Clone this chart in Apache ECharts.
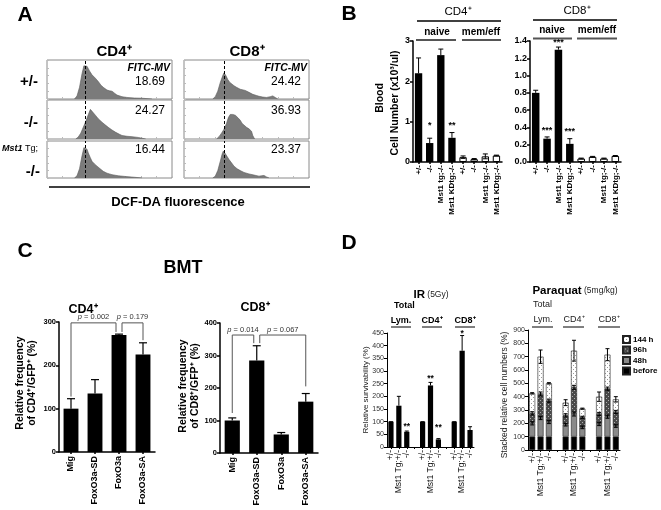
<!DOCTYPE html>
<html><head><meta charset="utf-8">
<script src="https://cdn.jsdelivr.net/npm/echarts@6/dist/echarts.min.js"></script>
<style>html,body{margin:0;padding:0;background:#fff}#c{width:661px;height:510px}</style>
</head><body><div id="c"></div>
<script>
const FF = '"Liberation Sans", Arial, Helvetica, sans-serif';

// ---------- Panel A: DCF-DA histograms (x: fluorescence, y: % of max) ----------
const cd4Het = [[22,0],[24,8],[26,30],[28,65],[29.5,85],[30.5,88],[32,84],[34,72],[36,62],[38.5,54],[41,45],[43,36],[45,30],[48,23],[50,21],[52,20],[54,15],[56,10],[60,6],[64,4],[70,2.5],[76,2],[84,0]];
const cd4Ko  = [[23,0],[25,5],[27,15],[29,30],[31,45],[33,62],[34.7,76],[36,72],[38.7,61],[41,52],[44,43],[47,35],[49,30],[52,23],[55,17],[58,12],[60,9],[64,7],[68,6],[73,4],[79,0]];
const cd4Tg  = [[22,0],[24,6],[26,25],[28,60],[29.5,82],[30.5,86],[32,78],[33,68],[34.5,56],[36,45],[38,38],[40,32],[42.5,25],[45,18],[48,13],[52,9],[57,6],[63,4],[70,2],[76,0]];
const cd8Het = [[23,0],[25,6],[27,20],[29,42],[31,60],[32,67],[33.5,60],[35,50],[36.5,43],[38,38],[40,34],[42,30],[45,25],[49,22],[52,17],[55,12],[58,9],[60,7],[63,5],[66,4],[69,6],[71,8],[73,4],[75,0]];
const cd8Ko  = [[26,0],[28,6],[30,15],[32,25],[34,40],[35.5,55],[37,63],[39,63],[41,61],[43,55],[45,48],[46.5,40],[48,35],[50,30],[52,26],[54,20],[55,9],[56.5,0]];
const cd8Tg  = [[23,0],[25,5],[27,20],[29,45],[30.5,65],[31.5,73],[33,66],[34.5,58],[36,50],[38,41],[40,32],[42.5,25],[45,20],[48,15],[52,11],[56,8],[60,5],[62,6],[64,7],[66,3],[68,0]];
const dashCD4 = 30.4, dashCD8 = 32;
const mvCD4 = ['18.69', '24.27', '16.44'];
const mvCD8 = ['24.42', '36.93', '23.37'];

// ---------- Panel B: blood cell numbers ----------
const bCats = ['+/-', '-/-', 'Mst1 tg;-/-', 'Mst1 KDtg;-/-', '+/-', '-/-', 'Mst1 tg;-/-', 'Mst1 KDtg;-/-'];
const bCD4Mean = [2.2, 0.47, 2.65, 0.6, 0.12, 0.07, 0.14, 0.16];
const bCD4Err  = [0.38, 0.12, 0.15, 0.13, 0.03, 0.015, 0.06, 0.01];
const bCD4Sig  = ['', '*', '', '**', '', '', '', ''];
const bCD4SigY = [0, 0.99, 0, 0.99, 0, 0, 0, 0];
const bCD8Mean = [0.8, 0.27, 1.3, 0.21, 0.04, 0.06, 0.04, 0.07];
const bCD8Err  = [0.03, 0.02, 0.03, 0.06, 0.005, 0.005, 0.005, 0.005];
const bCD8Sig  = ['', '***', '***', '***', '', '', '', ''];
const bCD8SigY = [0, 0.41, 1.42, 0.39, 0, 0, 0, 0];

// ---------- Panel C: BMT ----------
const cCats = ['Mig', 'FoxO3a-SD', 'FoxO3a', 'FoxO3a-SA'];
const cCD4Mean = [100, 135, 270, 225];
const cCD4Err  = [23, 32, 2, 27];
const cCD8Mean = [100, 285, 57, 158];
const cCD8Err  = [8, 45, 6, 25];
const cCD4Brackets = [
  {from: 0, fromOff: 0, fromY: 128, to: 2, toOff: -3, toY: 277, top: 298, p: '0.002'},
  {from: 2, fromOff: 3, fromY: 277, to: 3, toOff: 0, toY: 258, top: 298, p: '0.179'}
];
const cCD8Brackets = [
  {from: 0, fromOff: 0, fromY: 123, to: 1, toOff: -3, toY: 338, top: 363, p: '0.014'},
  {from: 1, fromOff: 3, fromY: 338, to: 3, toOff: 0, toY: 205, top: 363, p: '0.067'}
];

// ---------- Panel D ----------
const dCats = ['+/-', 'Mst1 Tg;+/-', '-/-', '', '+/-', 'Mst1 Tg;+/-', '-/-', '', '+/-', 'Mst1 Tg;+/-', '-/-'];
const irMean = [100, 163, 60, null, 100, 243, 30, null, 100, 380, 67];
const irErr  = [0, 37, 3, null, 0, 12, 3, null, 0, 60, 13];
const irSig  = ['', '', '**', '', '', '**', '**', '', '', '*', ''];
const irSigY = [0, 0, 95, 0, 0, 284, 91, 0, 0, 462, 0];
const pqBefore = [100, 100, 100, null, 100, 100, 100, null, 100, 100, 100];
const pq48h    = [100, 140, 110, null, 90, 170, 70, null, 95, 150, 80];
const pq96h    = [75, 180, 160, null, 70, 200, 75, null, 75, 210, 105];
const pq144h   = [150, 280, 130, null, 95, 275, 65, null, 130, 255, 95];
const pqErr48  = [12, 12, 12, null, 10, 15, 10, null, 12, 12, 10];
const pqErr96  = [12, 15, 12, null, 12, 15, 8, null, 12, 12, 12];
const pqErr144 = [5, 50, 5, null, 22, 78, 4, null, 35, 45, 20];

// ================= build =================
function pattern(w, h, draw) { const c = document.createElement('canvas'); c.width = w; c.height = h; draw(c.getContext('2d')); return c; }
const hatchImg = pattern(4, 4, g => { g.fillStyle = '#4a4a4a'; g.fillRect(0, 0, 4, 4); g.fillStyle = '#b0b0b0'; g.fillRect(0, 0, 1, 1); g.fillRect(2, 2, 1, 1); });
const dotImg = pattern(4, 4, g => { g.fillStyle = '#fff'; g.fillRect(0, 0, 4, 4); g.fillStyle = '#9a9a9a'; g.fillRect(1, 1, 1, 1); g.fillRect(3, 3, 1, 1); });

const grids = [], xAxes = [], yAxes = [], series = [], gfx = [];

function T(x, y, text, size, o = {}) {
  const st = {text, fontSize: size, fontFamily: FF, fontWeight: o.w || 'normal', fontStyle: o.it ? 'italic' : 'normal',
    fill: o.c || '#000', align: o.a || 'center', verticalAlign: o.v || 'middle', textAlign: o.a || 'center', textVerticalAlign: o.v || 'middle'};
  if (o.rich) st.rich = o.rich;
  gfx.push({type: 'text', x, y, rotation: o.rot || 0, z: 50, silent: true, style: st});
}
function L(x1, y1, x2, y2, w = 1, c = '#000') {
  gfx.push({type: 'line', shape: {x1, y1, x2, y2}, style: {stroke: c, lineWidth: w}, z: 50, silent: true});
}

// ---- A grids 0..5
const histSets = [[cd4Het, cd8Het], [cd4Ko, cd8Ko], [cd4Tg, cd8Tg]];
const histTop = [60, 100, 141], histH = [39, 39, 37], histLeft = [47, 184];
histSets.forEach((row, r) => row.forEach((d, c) => {
  const gi = grids.length;
  grids.push({left: histLeft[c], top: histTop[r], width: 125, height: histH[r], show: true, borderColor: '#8a8a8a', borderWidth: 1, backgroundColor: '#fff'});
  const tk = {show: true, inside: true, length: 2, lineStyle: {color: '#bbb'}};
  xAxes.push({type: 'value', gridIndex: gi, min: 0, max: 100, interval: 12.5, axisLine: {show: false}, axisTick: tk, axisLabel: {show: false}, splitLine: {show: false}});
  yAxes.push({type: 'value', gridIndex: gi, min: 0, max: 100, interval: 20, axisLine: {show: false}, axisTick: tk, axisLabel: {show: false}, splitLine: {show: false}});
  series.push({type: 'line', xAxisIndex: gi, yAxisIndex: gi, data: d, showSymbol: false, symbol: 'none',
    lineStyle: {color: '#5a5a5a', width: 0.6}, areaStyle: {color: '#7b7b7b', opacity: 1},
    markLine: {silent: true, symbol: 'none', label: {show: false}, lineStyle: {type: [3, 2], color: '#000', width: 1},
      data: [{xAxis: c === 0 ? dashCD4 : dashCD8}]}});
}));

// ---- generic helpers
function catAxis(gi, labels, o) {
  return {type: 'category', gridIndex: gi, data: labels.map((_, i) => String(i)),
    axisLine: {lineStyle: {color: '#000', width: o.lw}},
    axisTick: {show: true, alignWithLabel: true, length: 2, lineStyle: {color: '#000', width: o.lw}},
    axisLabel: {rotate: 90, margin: o.margin || 4, fontSize: o.fs, fontWeight: o.fw, color: o.color || '#000', fontFamily: FF, interval: 0,
      formatter: (v) => labels[+v]}, splitLine: {show: false}};
}
function valAxis(gi, max, interval, o) {
  return {type: 'value', gridIndex: gi, min: 0, max, interval,
    axisLine: {show: true, lineStyle: {color: '#000', width: o.lw}},
    axisTick: {show: true, length: 3, lineStyle: {color: '#000', width: o.lw}},
    axisLabel: {fontSize: o.fs, fontWeight: o.fw, color: o.color || '#000', margin: o.margin || 3, fontFamily: FF, formatter: o.fmt},
    splitLine: {show: false}};
}
function errSeries(gi, data, cap, lw = 1) {
  return {type: 'custom', xAxisIndex: gi, yAxisIndex: gi, z: 10, silent: true, data,
    renderItem(p, api) {
      const i = api.value(0); const a = api.coord([i, api.value(1)]); const b = api.coord([i, api.value(2)]);
      const st = {stroke: '#000', lineWidth: lw};
      const ch = [{type: 'line', shape: {x1: a[0], y1: a[1], x2: b[0], y2: b[1]}, style: st},
                  {type: 'line', shape: {x1: b[0] - cap, y1: b[1], x2: b[0] + cap, y2: b[1]}, style: st}];
      if (api.value(3)) ch.push({type: 'line', shape: {x1: a[0] - cap, y1: a[1], x2: a[0] + cap, y2: a[1]}, style: st});
      return {type: 'group', children: ch};
    }};
}
function starSeries(gi, sig, sigY, size) {
  const data = [], txt = [];
  sig.forEach((s, i) => { if (s) { data.push([i, sigY[i]]); txt.push(s); } });
  return {type: 'custom', xAxisIndex: gi, yAxisIndex: gi, z: 20, silent: true, data,
    renderItem(p, api) {
      const c = api.coord([api.value(0), api.value(1)]);
      return {type: 'text', x: c[0], y: c[1] - 1, style: {text: txt[p.dataIndex], fontSize: size, fontFamily: FF, fontWeight: 'bold', fill: '#000',
        align: 'center', verticalAlign: 'top', textAlign: 'center', textVerticalAlign: 'top'}};
    }};
}
function bracketSeries(gi, brackets, size) {
  return {type: 'custom', xAxisIndex: gi, yAxisIndex: gi, z: 15, silent: true, data: [[0, 0]],
    renderItem(p, api) {
      const ch = [];
      brackets.forEach(b => {
        const a0 = api.coord([b.from, b.fromY]), a1 = api.coord([b.from, b.top]);
        const c0 = api.coord([b.to, b.toY]), c1 = api.coord([b.to, b.top]);
        const x1 = a0[0] + b.fromOff, x2 = c0[0] + b.toOff;
        ch.push({type: 'polyline', shape: {points: [[x1, a0[1]], [x1, a1[1]], [x2, c1[1]], [x2, c0[1]]]}, style: {stroke: '#555', lineWidth: 1, fill: 'none'}});
        ch.push({type: 'text', x: (x1 + x2) / 2, y: a1[1] - 1.5, style: {text: '{i|p} = ' + b.p,
          rich: {i: {fontStyle: 'italic', fontSize: size, fontFamily: FF, fill: '#333'}},
          fontSize: size, fontFamily: FF, fill: '#333', align: 'center', verticalAlign: 'bottom', textAlign: 'center', textVerticalAlign: 'bottom'}});
      });
      return {type: 'group', children: ch};
    }};
}

// ---- B grids 6,7
const bSpecs = [
  {left: 413, width: 89, mean: bCD4Mean, err: bCD4Err, sig: bCD4Sig, sigY: bCD4SigY, max: 3, interval: 1, fmt: v => String(v)},
  {left: 530, width: 91, mean: bCD8Mean, err: bCD8Err, sig: bCD8Sig, sigY: bCD8SigY, max: 1.4, interval: 0.2, fmt: v => v.toFixed(1)}
];
bSpecs.forEach(s => {
  const gi = grids.length;
  grids.push({left: s.left, top: 41, width: s.width, height: 121});
  xAxes.push(catAxis(gi, bCats, {lw: 1.5, fs: 8, fw: 'bold', margin: 3}));
  yAxes.push(valAxis(gi, s.max, s.interval, {lw: 1.5, fs: 9, fw: 'bold', fmt: s.fmt}));
  series.push({type: 'bar', xAxisIndex: gi, yAxisIndex: gi, barWidth: '66%',
    data: s.mean.map((v, i) => i < 4 ? {value: v, itemStyle: {color: '#000'}} : {value: v, itemStyle: {color: '#fff', borderColor: '#000', borderWidth: 1}})});
  series.push(errSeries(gi, s.mean.map((m, i) => [i, i < 4 ? m : m - s.err[i], m + s.err[i], i < 4 ? 0 : 1]), 2.5));
  series.push(starSeries(gi, s.sig, s.sigY, 9));
});

// ---- C grids 8,9
const cSpecs = [
  {left: 59, top: 322, width: 96, mean: cCD4Mean, err: cCD4Err, br: cCD4Brackets, max: 300},
  {left: 220, top: 323, width: 98, mean: cCD8Mean, err: cCD8Err, br: cCD8Brackets, max: 400}
];
cSpecs.forEach(s => {
  const gi = grids.length;
  grids.push({left: s.left, top: s.top, width: s.width, height: 130});
  xAxes.push(catAxis(gi, cCats, {lw: 1.5, fs: 9, fw: 'bold', margin: 4}));
  yAxes.push(valAxis(gi, s.max, 100, {lw: 1.5, fs: 7.5, fw: 'bold'}));
  series.push({type: 'bar', xAxisIndex: gi, yAxisIndex: gi, barWidth: '62%', itemStyle: {color: '#000'}, data: s.mean});
  series.push(errSeries(gi, s.mean.map((m, i) => [i, m, m + s.err[i], 0]), 4, 1.2));
  series.push(bracketSeries(gi, s.br, 7.5));
});

// ---- D IR grid 10
{
  const gi = grids.length;
  grids.push({left: 387, top: 333, width: 87, height: 114});
  xAxes.push(catAxis(gi, dCats, {lw: 1, fs: 8.5, fw: 'normal', margin: 3, color: '#111'}));
  yAxes.push(valAxis(gi, 450, 50, {lw: 1, fs: 7, fw: 'normal', color: '#333'}));
  series.push({type: 'bar', xAxisIndex: gi, yAxisIndex: gi, barWidth: '66%', itemStyle: {color: '#000'}, data: irMean});
  const ed = []; irMean.forEach((m, i) => { if (m != null) ed.push([i, m, m + irErr[i], 0]); });
  series.push(errSeries(gi, ed, 2));
  series.push(starSeries(gi, irSig, irSigY, 8.5));
}
// ---- D Paraquat grid 11
{
  const gi = grids.length;
  grids.push({left: 528, top: 330, width: 92, height: 120});
  xAxes.push(catAxis(gi, dCats, {lw: 1, fs: 8.5, fw: 'normal', margin: 3, color: '#111'}));
  yAxes.push(valAxis(gi, 900, 100, {lw: 1, fs: 7, fw: 'normal', color: '#333'}));
  const mk = (name, data, color) => ({type: 'bar', name, stack: 'pq', xAxisIndex: gi, yAxisIndex: gi, barWidth: '72%', data,
    itemStyle: {color, borderColor: '#222', borderWidth: 0.6}});
  series.push(mk('before', pqBefore, '#000'));
  series.push(mk('48h', pq48h, '#8a8a8a'));
  series.push(mk('96h', pq96h, {image: hatchImg, repeat: 'repeat'}));
  series.push(mk('144 h', pq144h, {image: dotImg, repeat: 'repeat'}));
  const ed = [];
  pqBefore.forEach((b, i) => {
    if (b == null) return;
    const t1 = b + pq48h[i], t2 = t1 + pq96h[i], t3 = t2 + pq144h[i];
    ed.push([i, t1 - pqErr48[i], t1 + pqErr48[i], 1]);
    ed.push([i, t2 - pqErr96[i], t2 + pqErr96[i], 1]);
    ed.push([i, t3 - pqErr144[i], t3 + pqErr144[i], 1]);
  });
  series.push(errSeries(gi, ed, 2));
}

// ================= texts & lines =================
// A
T(25, 15, 'A', 21, {w: 'bold'});
T(114, 52, 'CD4⁺', 15, {w: 'bold'});
T(247, 52, 'CD8⁺', 15, {w: 'bold'});
T(170, 68, 'FITC-MV', 10.5, {w: 'bold', it: true, a: 'right'});
T(307, 68, 'FITC-MV', 10.5, {w: 'bold', it: true, a: 'right'});
const mvY = [82, 111, 150];
mvY.forEach((y, r) => { T(150, y, mvCD4[r], 12); T(286, y, mvCD8[r], 12); });
T(38, 82, '+/-', 15, {w: 'bold', a: 'right'});
T(38, 123, '-/-', 15, {w: 'bold', a: 'right'});
T(38, 149, '{a|Mst1} Tg;', 9, {a: 'right', rich: {a: {fontStyle: 'italic', fontWeight: 'bold', fontSize: 9, fontFamily: FF}}});
T(40, 172, '-/-', 15, {w: 'bold', a: 'right'});
L(49, 187, 310, 187, 1.5);
T(178, 202, 'DCF-DA fluorescence', 13, {w: 'bold'});

// B
T(349, 14, 'B', 21, {w: 'bold'});
T(458, 12, 'CD4⁺', 11.5);
L(417, 21, 501, 21, 1.3);
T(437, 32, 'naive', 10, {w: 'bold'});
L(416, 40, 456, 40, 2, '#555');
T(481, 32, 'mem/eff', 10, {w: 'bold'});
L(462, 40, 501, 40, 2, '#555');
T(577, 11, 'CD8⁺', 11.5);
L(533, 20, 617, 20, 1.3);
T(552, 30, 'naive', 10, {w: 'bold'});
L(533, 38.5, 572, 38.5, 2, '#555');
T(597, 30, 'mem/eff', 10, {w: 'bold'});
L(577, 38.5, 617, 38.5, 2, '#555');
T(380, 98, 'Blood', 10.5, {w: 'bold', rot: Math.PI / 2});
T(395, 103, 'Cell Number (x10³/ul)', 10.5, {w: 'bold', rot: Math.PI / 2});

// C
T(25, 251, 'C', 21, {w: 'bold'});
T(183, 268, 'BMT', 18, {w: 'bold'});
T(83, 310, 'CD4⁺', 12.5, {w: 'bold'});
T(255, 308, 'CD8⁺', 12.5, {w: 'bold'});
T(20, 383, 'Relative frequency', 10.5, {w: 'bold', rot: Math.PI / 2});
T(32, 383, 'of CD4⁺/GFP⁺ (%)', 10.5, {w: 'bold', rot: Math.PI / 2});
T(183, 386, 'Relative frequency', 10.5, {w: 'bold', rot: Math.PI / 2});
T(195, 386, 'of CD8⁺/GFP⁺ (%)', 10.5, {w: 'bold', rot: Math.PI / 2});

// D
T(349, 243, 'D', 21, {w: 'bold'});
T(431, 295, '{b|IR} (5Gy)', 8.5, {c: '#222', rich: {b: {fontWeight: 'bold', fontSize: 11.5, fontFamily: FF, fill: '#000'}}});
T(394, 306, 'Total', 9, {w: 'bold', a: 'left'});
T(401, 321, 'Lym.', 9, {w: 'bold'});
T(432, 321, 'CD4⁺', 9, {w: 'bold'});
T(465, 321, 'CD8⁺', 9, {w: 'bold'});
L(391, 327, 411, 327, 1); L(422, 327, 442, 327, 1); L(455, 327, 475, 327, 1);
T(366, 390, 'Relative survivability (%)', 8, {c: '#222', rot: Math.PI / 2});
T(575, 291, '{b|Paraquat} (5mg/kg)', 8.5, {c: '#222', rich: {b: {fontWeight: 'bold', fontSize: 11.5, fontFamily: FF, fill: '#000'}}});
T(533, 305, 'Total', 9, {a: 'left', c: '#222'});
T(543, 320, 'Lym.', 9, {c: '#222'});
T(574, 320, 'CD4⁺', 9, {c: '#222'});
T(609, 320, 'CD8⁺', 9, {c: '#222'});
L(532, 327, 553, 327, 1); L(563, 327, 584, 327, 1); L(598, 327, 620, 327, 1);
T(505, 395, 'Stacked relative cell numbers (%)', 8.5, {c: '#222', rot: Math.PI / 2});

const option = {
  animation: false,
  backgroundColor: '#fff',
  textStyle: {fontFamily: FF},
  grid: grids, xAxis: xAxes, yAxis: yAxes, series,
  legend: {orient: 'vertical', left: 622, top: 335, padding: 0, itemWidth: 7, itemHeight: 7, itemGap: 1.5, icon: 'rect',
    data: ['144 h', '96h', '48h', 'before'], selectedMode: false,
    textStyle: {fontSize: 8, fontWeight: 'bold', color: '#000', fontFamily: FF, padding: [0, 0, 0, -2]}},
  graphic: {elements: gfx}
};
const chart = echarts.init(document.getElementById('c'), null, {renderer: 'canvas'});
chart.setOption(option);
</script></body></html>
